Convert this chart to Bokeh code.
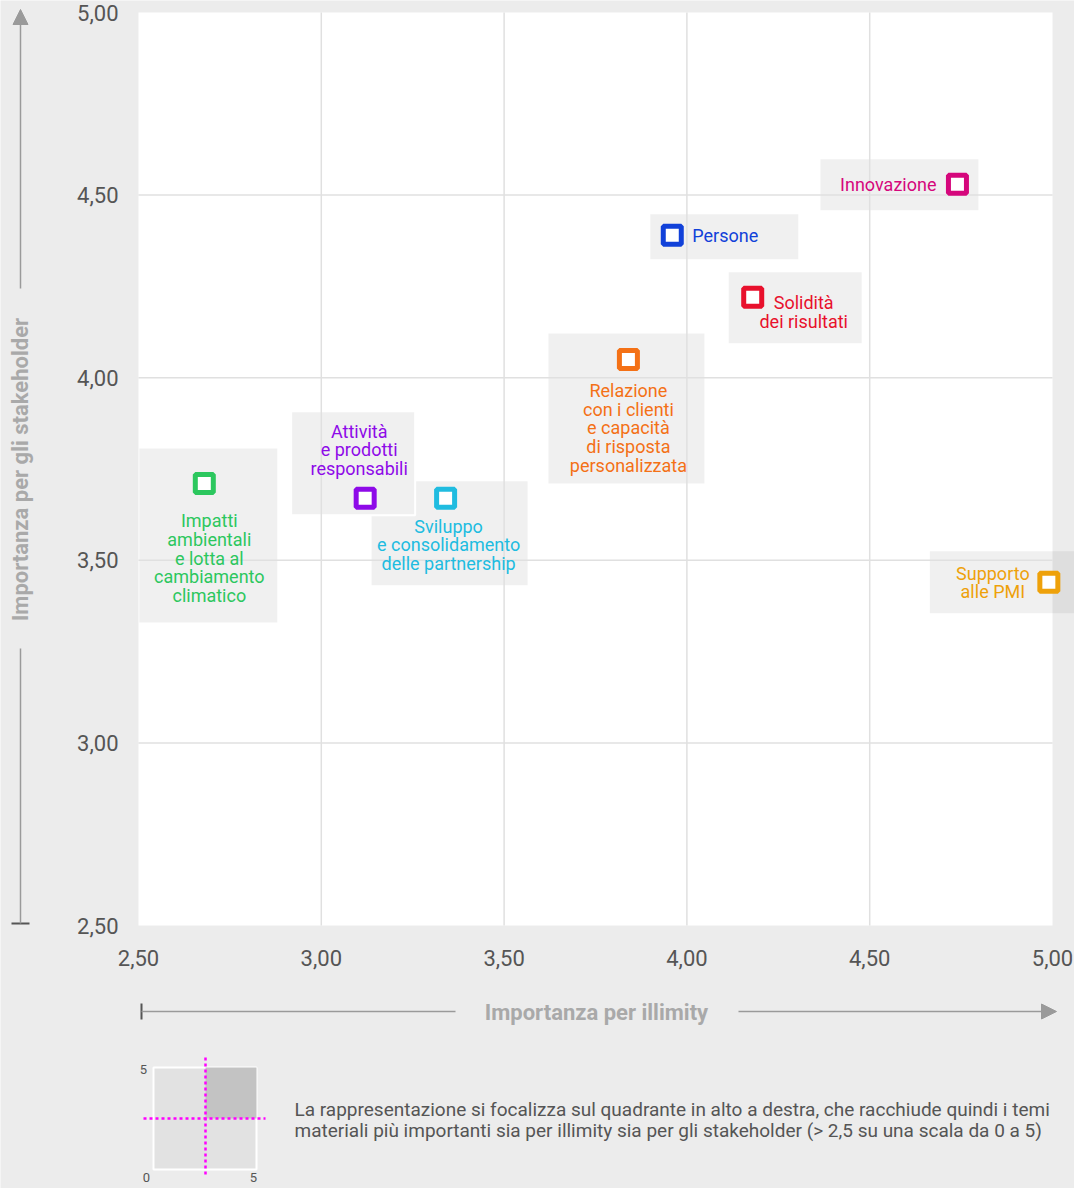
import math
from bokeh.plotting import figure
from bokeh.models import (ColumnDataSource, Range1d, LinearAxis, FixedTicker,
                          CustomJSTickFormatter, Arrow, NormalHead, TeeHead)
from bokeh.core.properties import value
from bokeh.embed import file_html
from bokeh.resources import INLINE

# ---------------- data ----------------
topics = [
    "Innovazione",
    "Persone",
    "Solidità\ndei risultati",
    "Relazione\ncon i clienti\ne capacità\ndi risposta\npersonalizzata",
    "Sviluppo\ne consolidamento\ndelle partnership",
    "Attività\ne prodotti\nresponsabili",
    "Impatti\nambientali\ne lotta al\ncambiamento\nclimatico",
    "Supporto\nalle PMI",
]
importanza_illimity = [4.74, 3.96, 4.18, 3.84, 3.34, 3.12, 2.68, 4.99]
importanza_stakeholder = [4.53, 4.39, 4.22, 4.05, 3.67, 3.67, 3.71, 3.44]
topic_colors = ["#d5077c", "#1141d9", "#e8102c", "#f47116",
                "#20bce0", "#8e0ae8", "#2cc75e", "#eea10a"]

x_ticks = [2.5, 3.0, 3.5, 4.0, 4.5, 5.0]
x_tick_labels = ["2,50", "3,00", "3,50", "4,00", "4,50", "5,00"]
y_ticks = [2.5, 3.0, 3.5, 4.0, 4.5, 5.0]
y_tick_labels = ["2,50", "3,00", "3,50", "4,00", "4,50", "5,00"]

x_title = "Importanza per illimity"
y_title = "Importanza per gli stakeholder"
note_lines = [
    "La rappresentazione si focalizza sul quadrante in alto a destra, che racchiude quindi i temi",
    "materiali più importanti sia per illimity sia per gli stakeholder (> 2,5 su una scala da 0 a 5)",
]
inset_labels = ["5", "0", "5"]

# ---------------- layout / styles ----------------
W, H = 1074, 1188
BG = "#ececec"
FONT = "Roboto"
PXX, PXY = 914.0 / 2.5, 913.0 / 2.5     # pixels per data unit
X0 = 2.5 - 138.0 / PXX
Y1 = 5.0 + 12.0 / PXY


def rx(px):
    """canvas pixel x -> data x"""
    return X0 + px / PXX


def ry(py):
    """canvas pixel y (from top) -> data y"""
    return Y1 - py / PXY


def dx(off):
    return off / PXX


def dy(off):
    return -off / PXY


# label box offsets (left, right, top, bottom) in px around each point
box_off = [(-137, 21, -25, 26), (-22, 126, -21, 24), (-24, 109, -25, 46),
           (-80, 76, -26, 124), (-74, 82, -17, 87), (-74, 50, -87, 17),
           (-65, 73, -35, 139), (-119, 40, -31, 31)]
# label text anchor: (align, dx px, first line dy px)
text_anchor = [("right", -21, 0), ("left", 20, 0), ("center", 51, 5),
               ("center", 0, 31), ("center", 3, 28), ("center", -6, -67),
               ("center", 5, 37), ("center", -56, -9)]
# box drawn opaque with a white rim (sits on top of its neighbour)
box_opaque = [False, False, False, False, False, True, False, False]
LINE_PITCH = 18.7

p = figure(width=W, height=H,
           x_range=Range1d(X0, X0 + W / PXX), y_range=Range1d(Y1 - H / PXY, Y1),
           x_axis_location=None, y_axis_location=None,
           toolbar_location=None, tools="", output_backend="svg",
           min_border=0, background_fill_color=BG, border_fill_color=BG,
           outline_line_color=None)
p.center = []   # no default grids

# white plotting area
p.quad(left=x_ticks[0], right=x_ticks[-1], bottom=y_ticks[0], top=y_ticks[-1],
       fill_color="white", line_color=None)

# label boxes
for xv, yv, (l, r, t, b), opaque in zip(importanza_illimity, importanza_stakeholder,
                                        box_off, box_opaque):
    if opaque:
        p.quad(left=[xv + dx(l)], right=[xv + dx(r)], top=[yv + dy(t)],
               bottom=[yv + dy(b)], fill_color="#f0f0f0", line_color="white",
               line_width=2)
    else:
        p.quad(left=[xv + dx(l)], right=[xv + dx(r)], top=[yv + dy(t)],
               bottom=[yv + dy(b)], fill_color="black", fill_alpha=0.06,
               line_color=None)

# grid lines
inner_x = x_ticks[1:-1]
inner_y = y_ticks[1:-1]
p.segment(x0=inner_x, y0=[y_ticks[0]] * len(inner_x), x1=inner_x,
          y1=[y_ticks[-1]] * len(inner_x), line_color="#e0e0e0", line_width=1.5)
p.segment(x0=[x_ticks[0]] * len(inner_y), y0=inner_y,
          x1=[x_ticks[-1]] * len(inner_y), y1=inner_y,
          line_color="#e0e0e0", line_width=1.5)

# markers
src = ColumnDataSource(dict(x=importanza_illimity, y=importanza_stakeholder,
                            color=topic_colors, name=topics))
p.scatter(x="x", y="y", source=src, marker="square", size=18,
          fill_color="white", line_color="color", line_width=5)

# label texts
for align in ("left", "center", "right"):
    tx, ty, tt, tc = [], [], [], []
    for xv, yv, name, col, (al, ox, oy) in zip(importanza_illimity, importanza_stakeholder,
                                              topics, topic_colors, text_anchor):
        if al != align:
            continue
        for i, line in enumerate(name.split("\n")):
            tx.append(xv + dx(ox))
            ty.append(yv + dy(oy + i * LINE_PITCH))
            tt.append(line)
            tc.append(col)
    if tx:
        p.text(x=tx, y=ty, text=tt, text_color=tc, text_align=align,
               text_baseline="middle", text_font=value(FONT),
               text_font_size=value("18px"))

# axes (tick labels only)
FMT_CODE = """
const i = tvals.findIndex(t => Math.abs(t - tick) < 1e-9);
return i >= 0 ? tlabs[i] : "";
"""
fmt_x = CustomJSTickFormatter(args=dict(tvals=x_ticks, tlabs=x_tick_labels), code=FMT_CODE)
fmt_y = CustomJSTickFormatter(args=dict(tvals=y_ticks, tlabs=y_tick_labels), code=FMT_CODE)
axis_style = dict(axis_line_color=None, major_tick_line_color=None,
                  minor_tick_line_color=None, major_tick_in=0, major_tick_out=0,
                  minor_tick_in=0, minor_tick_out=0,
                  major_label_text_font=FONT, major_label_text_font_size="22px",
                  major_label_text_color="#555555")
xaxis = LinearAxis(fixed_location=y_ticks[0], ticker=FixedTicker(ticks=x_ticks),
                   formatter=fmt_x, major_label_standoff=24, **axis_style)
yaxis = LinearAxis(fixed_location=x_ticks[0], ticker=FixedTicker(ticks=y_ticks),
                   formatter=fmt_y, major_label_standoff=20, **axis_style)
p.add_layout(xaxis, "below")
p.add_layout(yaxis, "left")

# axis titles with arrows
ARROW_C = "#9a9a9a"
p.add_layout(Arrow(x_start=rx(20), y_start=ry(288), x_end=rx(20), y_end=ry(9),
                   line_color=ARROW_C, line_width=1.5,
                   end=NormalHead(size=15, fill_color=ARROW_C, line_color=ARROW_C)))
p.add_layout(Arrow(x_start=rx(20), y_start=ry(923), x_end=rx(20), y_end=ry(648),
                   line_color=ARROW_C, line_width=1.5,
                   start=TeeHead(size=18, line_color="#555555", line_width=2), end=None))
p.add_layout(Arrow(x_start=rx(141), y_start=ry(1011), x_end=rx(455), y_end=ry(1011),
                   line_color=ARROW_C, line_width=1.5,
                   start=TeeHead(size=16, line_color="#555555", line_width=2), end=None))
p.add_layout(Arrow(x_start=rx(738), y_start=ry(1011), x_end=rx(1056), y_end=ry(1011),
                   line_color=ARROW_C, line_width=1.5,
                   end=NormalHead(size=15, fill_color=ARROW_C, line_color=ARROW_C)))

p.text(x=[rx(596)], y=[ry(1012)], text=[x_title], text_align="center",
       text_baseline="middle", text_color="#a9a9a9", text_font=value(FONT),
       text_font_size=value("22px"), text_font_style="bold")
p.text(x=[rx(20)], y=[ry(469)], text=[y_title], angle=math.pi / 2,
       text_align="center", text_baseline="middle", text_color="#a9a9a9",
       text_font=value(FONT), text_font_size=value("22px"), text_font_style="bold")

# inset explaining the quadrant
p.quad(left=rx(153), right=rx(256), top=ry(1067), bottom=ry(1169),
       fill_color="#e2e2e2", line_color="white", line_width=2)
p.quad(left=rx(205), right=rx(256), top=ry(1067), bottom=ry(1118),
       fill_color="#c3c3c3", line_color=None)
p.segment(x0=[rx(205), rx(143)], y0=[ry(1057), ry(1118)],
          x1=[rx(205), rx(265)], y1=[ry(1176), ry(1118)],
          line_color="#ff00ff", line_width=2.5, line_dash="3 3")
p.text(x=[rx(143), rx(146), rx(253)], y=[ry(1069), ry(1177), ry(1177)],
       text=inset_labels, text_align="center", text_baseline="middle",
       text_color="#555555", text_font=value(FONT), text_font_size=value("13px"))

p.text(x=[rx(294)] * len(note_lines), y=[ry(1109), ry(1130)], text=note_lines,
       text_align="left", text_baseline="middle", text_color="#555555",
       text_font=value(FONT), text_font_size=value("19px"))

open("out.html", "w").write(file_html(p, INLINE))
